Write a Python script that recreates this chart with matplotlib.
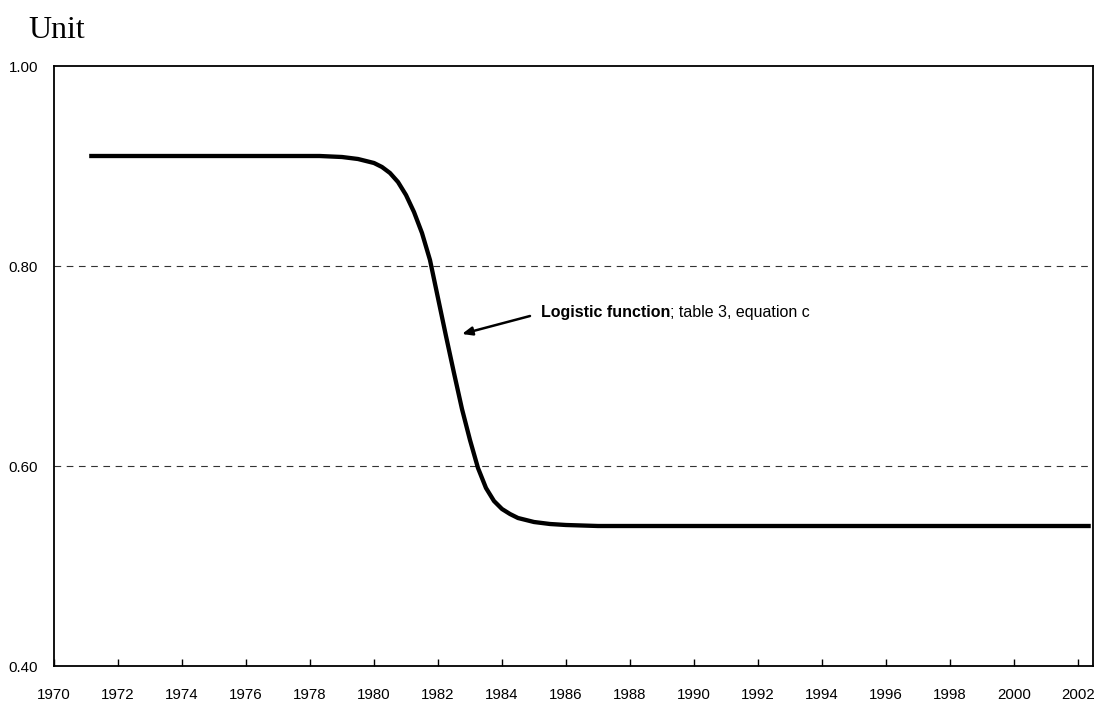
import matplotlib
matplotlib.use("Agg")
import matplotlib.pyplot as plt

years = [1971.1, 1978.3, 1979.0, 1979.5, 1980.0, 1980.25, 1980.5, 1980.75, 1981.0,
         1981.25, 1981.5, 1981.75, 1982.0, 1982.25, 1982.5, 1982.75, 1983.0,
         1983.25, 1983.5, 1983.75, 1984.0, 1984.25, 1984.5, 1984.75, 1985.0,
         1985.5, 1986.0, 1987.0, 2002.4]
values = [0.910, 0.910, 0.909, 0.907, 0.903, 0.899, 0.893, 0.884, 0.871,
          0.854, 0.833, 0.806, 0.768, 0.730, 0.693, 0.657, 0.626,
          0.598, 0.578, 0.565, 0.557, 0.552, 0.548, 0.546, 0.544,
          0.542, 0.541, 0.540, 0.540]
x_ticks = list(range(1970, 2003, 2))
y_ticks = [0.40, 0.60, 0.80, 1.00]
grid_levels = [0.60, 0.80]

FONT = "Liberation Sans"

fig = plt.figure(figsize=(10.99, 7.01), dpi=100)
ax = fig.add_axes([54/1099, 35/701, 1039/1099, 600/701])
ax.plot(years, values, color="black", lw=3.1, solid_joinstyle="round", solid_capstyle="butt")
for g in grid_levels:
    ax.axhline(g, color="#333333", lw=0.8, ls=(0, (6, 5)), zorder=0)
ax.set_xlim(1970, 2002.47)
ax.set_ylim(0.40, 1.00)
ax.set_xticks(x_ticks)
ax.set_xticklabels([str(t) for t in x_ticks], fontfamily=FONT, fontsize=10.8)
ax.set_yticks(y_ticks)
ax.set_yticklabels([f"{v:.2f}" for v in y_ticks], fontfamily=FONT, fontsize=10.8)
ax.tick_params(axis="x", direction="in", length=5, width=1, pad=16)
ax.tick_params(axis="y", length=0, pad=11.5)
for s in ax.spines.values():
    s.set_linewidth(1.3)

fig.text(28/1099, 1 - 38/701, "Unit", fontfamily="Liberation Serif", fontsize=23,
         va="baseline")

ax.annotate("", xy=(1982.75, 0.732), xytext=(1984.875, 0.750),
            arrowprops=dict(arrowstyle="-|>,head_length=0.6,head_width=0.25",
                            color="black", lw=1.8, shrinkA=0, shrinkB=0))
t1 = ax.text(1985.22, 0.7495, "Logistic function", fontfamily=FONT, fontsize=11.5,
             fontweight="bold", va="baseline")
fig.canvas.draw()
bb = t1.get_window_extent()
inv = ax.transData.inverted()
xe = inv.transform((bb.x1, bb.y0))[0]
ax.text(xe, 0.7495, "; table 3, equation c", fontfamily=FONT, fontsize=11.5, va="baseline")

fig.savefig("out.png", dpi=100)
